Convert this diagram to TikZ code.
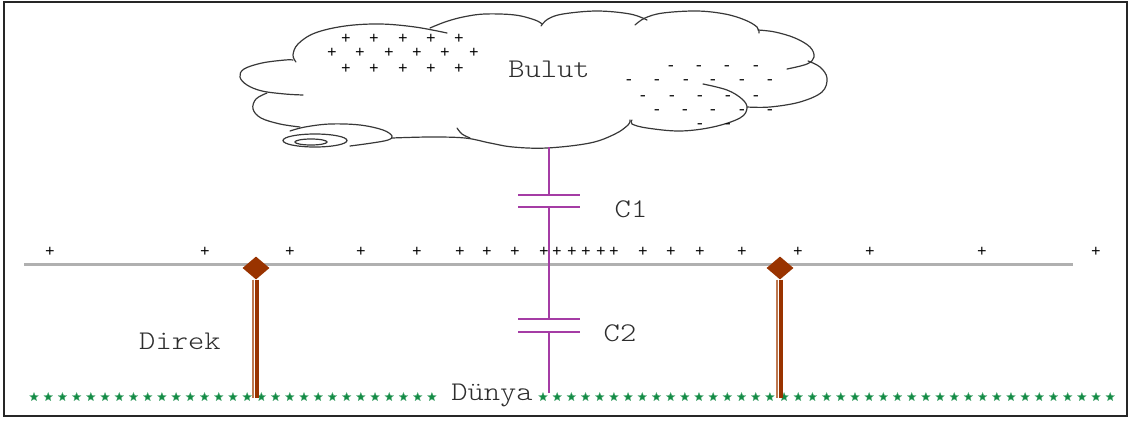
\documentclass[tikz,border=0pt]{standalone}
\usepackage{fontspec}
\newfontfamily\labelfont[FakeStretch=1.15]{lmmonolt10-regular.otf}
\newfontfamily\chargefont{Liberation Mono}
\usetikzlibrary{shapes.geometric}
\definecolor{wire}{RGB}{176,176,176}
\definecolor{capline}{RGB}{165,60,165}
\definecolor{pole}{RGB}{153,51,0}
\definecolor{polelight}{RGB}{190,120,80}
\definecolor{earth}{RGB}{20,140,70}
\definecolor{ink}{RGB}{45,45,45}
\begin{document}
\begin{tikzpicture}[x=1pt,y=-1pt,
  txt/.style={font=\labelfont\fontsize{27}{30}\selectfont, text=ink, inner sep=0, anchor=base},
  charge/.style={font=\chargefont\fontsize{16}{18}\selectfont, text=black, inner sep=0},
  cloudline/.style={draw=black!78, line width=1.2pt, line cap=round},
  plate/.style={draw=capline, line width=1.8pt},
  poleline/.style={draw=pole, line width=4pt},
  polelite/.style={draw=polelight, line width=1.8pt},
  insulator/.style={diamond, fill=pole, minimum width=27pt, minimum height=23pt, inner sep=0},
  groundstar/.style={star, star points=5, star point ratio=2.3, fill=earth, draw=earth!70!white, line width=0.3pt, minimum size=9pt, inner sep=0}]
\useasboundingbox (0,0) rectangle (1130,421);

% frame
\draw[black!85, line width=2pt] (4,2) rectangle (1127,416);

% cloud outline, lobe by lobe
\draw[cloudline] plot[smooth, tension=0.6] coordinates {(303,95) (285,94) (262,91) (247,85) (240,77) (244,69) (262,63) (285,60) (293,60)};
\draw[cloudline] plot[smooth, tension=0.6] coordinates {(296,62) (293,55) (298,44) (315,33) (345,26) (380,24) (415,27) (447,33)};
\draw[cloudline] plot[smooth, tension=0.6] coordinates {(430,28) (445,22) (463,17) (485,14) (515,15) (535,20) (542,24)};
\draw[cloudline] plot[smooth, tension=0.6] coordinates {(541,26) (548,19) (563,14) (597,11) (630,14) (647,20)};
\draw[cloudline] plot[smooth, tension=0.6] coordinates {(635,25) (645,18) (663,13) (697,11) (725,14) (745,20) (757,27) (759,33)};
\draw[cloudline] plot[smooth, tension=0.6] coordinates {(758,30) (775,32) (795,38) (810,47) (814,57) (807,64) (787,69)};
\draw[cloudline] plot[smooth, tension=0.6] coordinates {(808,61) (820,67) (827,78) (822,92) (800,102) (770,107) (747,107)};
\draw[cloudline] plot[smooth, tension=0.6] coordinates {(703,84) (727,90) (742,99) (747,108) (740,118) (713,127) (680,131) (647,128) (632,124) (632,120)};
\draw[cloudline] plot[smooth, tension=0.6] coordinates {(392,138) (430,137) (465,138) (490,143) (513,147) (547,148) (590,143) (615,134) (628,125) (630,120)};
\draw[cloudline] plot[smooth, tension=0.6] coordinates {(457,128) (462,134) (470,138)};
\draw[cloudline] plot[smooth, tension=0.6] coordinates {(267,93) (256,99) (253,109) (261,118) (280,124) (300,127)};
\draw[cloudline] plot[smooth, tension=0.6] coordinates {(290,131) (305,127) (330,124) (360,125) (383,130) (392,136) (388,140) (372,143) (350,146)};
\draw[cloudline] (315,140.5) ellipse [x radius=32pt, y radius=6.5pt];
\draw[cloudline] (311,142) ellipse [x radius=16pt, y radius=3pt];

% charges in the cloud
\foreach \x in {346,374,403,431,459} {
  \node[charge] at (\x,39) {+};
  \node[charge] at (\x,69) {+};
}
\foreach \x in {332,360,389,417,445,474} \node[charge] at (\x,53) {+};
\foreach \x in {671,699,727,756} \node[charge] at (\x,68) {-};
\foreach \x in {629,657,686,713,742,770} \node[charge] at (\x,82) {-};
\foreach \x in {643,672,700,728,756} \node[charge] at (\x,98) {-};
\foreach \x in {657,685,713,742,770} \node[charge] at (\x,112) {-};
\foreach \x in {700,728} \node[charge] at (\x,126) {-};

\node[txt] (bulut) at (549,77) {Bulut};

% overhead line and its induced charges
\coordinate (wl) at (24,264);
\coordinate (wr) at (1073,264);
\draw[draw=wire, line width=3pt] (wl) -- (wr);
\foreach \x in {50,205,290,361,417,460,487,515,544,557,572,586,601,614,643,671,700,742,798,870,982,1096}
  \node[charge] at (\x,252) {+};

% earth
\foreach \i in {0,...,28} \node[groundstar] at ({34+14.21*\i},397) {};
\foreach \i in {0,...,40} \node[groundstar] at ({543+14.18*\i},397) {};
\node[txt] (dunya) at (492,400) {Dünya};

% poles with insulators
\coordinate (g1) at (256,398);
\coordinate (g2) at (780,398);
\node[insulator] (d1) at (256,268) {};
\node[insulator] (d2) at (780,268) {};
\draw[polelite] ([xshift=-3pt]d1.south) -- ([xshift=-3pt]g1);
\draw[poleline] ([xshift=1pt]d1.south) -- ([xshift=1pt]g1);
\draw[polelite] ([xshift=-3pt]d2.south) -- ([xshift=-3pt]g2);
\draw[poleline] ([xshift=1pt]d2.south) -- ([xshift=1pt]g2);
\node[txt] (direk) at (180,349) {Direk};

% capacitor chain cloud - line - earth
\coordinate (cb) at (549,147);
\coordinate (c1a) at (549,195);
\coordinate (c1b) at (549,207);
\coordinate (c2a) at (549,319);
\coordinate (c2b) at (549,332);
\coordinate (ce) at (549,393);
\draw[plate] (cb) -- (c1a);
\draw[plate] (c1b) -- (c2a);
\draw[plate] (c2b) -- (ce);
\draw[plate] ([xshift=-31pt]c1a) -- ([xshift=31pt]c1a);
\draw[plate] ([xshift=-31pt]c1b) -- ([xshift=31pt]c1b);
\draw[plate] ([xshift=-31pt]c2a) -- ([xshift=31pt]c2a);
\draw[plate] ([xshift=-31pt]c2b) -- ([xshift=31pt]c2b);
\node[txt] (cone) at (631,217) {C1};
\node[txt] (ctwo) at (620,341) {C2};
\end{tikzpicture}
\end{document}
